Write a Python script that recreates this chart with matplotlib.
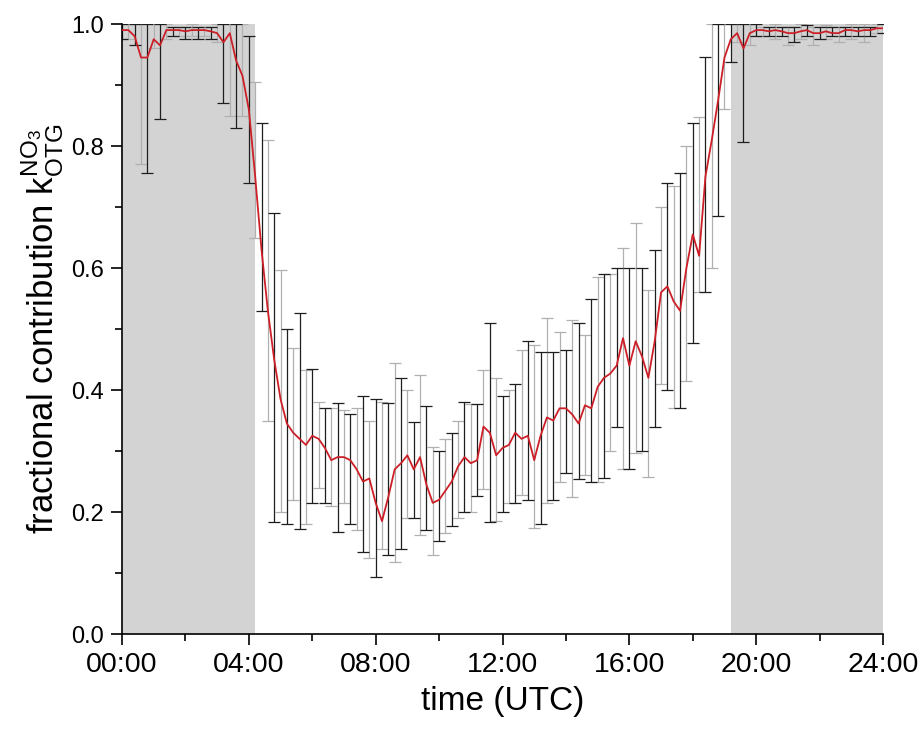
import matplotlib
matplotlib.use("Agg")
import matplotlib.pyplot as plt
import numpy as np

plt.rcParams.update({
    "font.family": ["Liberation Sans", "DejaVu Sans"],
    "mathtext.fontset": "custom",
    "mathtext.rm": "Liberation Sans",
    "mathtext.it": "Liberation Sans",
})

# time in hours (UTC), 12-minute steps
hours = np.round(np.arange(0, 24.01, 0.2), 1)

# fractional contribution (red line)
frac = np.array([
    0.99, 0.99, 0.98, 0.945, 0.945, 0.975, 0.965, 0.99, 0.99, 0.99,      # 0.0-1.8
    0.988, 0.99, 0.99, 0.99, 0.988, 0.985, 0.97, 0.985, 0.94, 0.915,     # 2.0-3.8
    0.86, 0.75, 0.63, 0.53, 0.45, 0.385, 0.345, 0.33, 0.32, 0.31,        # 4.0-5.8
    0.325, 0.32, 0.305, 0.285, 0.29, 0.29, 0.285, 0.27, 0.25, 0.255,     # 6.0-7.8
    0.215, 0.185, 0.225, 0.27, 0.28, 0.293, 0.27, 0.29, 0.245, 0.215,    # 8.0-9.8
    0.22, 0.235, 0.25, 0.275, 0.29, 0.28, 0.285, 0.34, 0.33, 0.293,      # 10.0-11.8
    0.305, 0.31, 0.33, 0.32, 0.325, 0.285, 0.325, 0.355, 0.35, 0.37,     # 12.0-13.8
    0.37, 0.36, 0.345, 0.375, 0.37, 0.405, 0.42, 0.427, 0.44, 0.485,     # 14.0-15.8
    0.44, 0.48, 0.455, 0.42, 0.48, 0.56, 0.57, 0.545, 0.53, 0.60,        # 16.0-17.8
    0.655, 0.62, 0.75, 0.81, 0.875, 0.945, 0.975, 0.985, 0.96, 0.985,    # 18.0-19.8
    0.99, 0.99, 0.988, 0.99, 0.988, 0.985, 0.985, 0.988, 0.99, 0.985,    # 20.0-21.8
    0.985, 0.988, 0.985, 0.985, 0.99, 0.99, 0.988, 0.99, 0.99, 0.993,    # 22.0-23.8
    0.993,                                                               # 24.0
])

# lower / upper ends of the error bars
err_lo = np.array([
    0.975, 0.975, 0.965, 0.77, 0.755, 0.96, 0.845, 0.975, 0.98, 0.98,
    0.975, 0.98, 0.975, 0.98, 0.975, 0.97, 0.87, 0.85, 0.83, 0.85,
    0.74, 0.65, 0.53, 0.35, 0.184, 0.20, 0.18, 0.22, 0.172, 0.18,
    0.215, 0.24, 0.215, 0.21, 0.167, 0.215, 0.18, 0.17, 0.135, 0.124,
    0.094, 0.14, 0.13, 0.118, 0.14, 0.19, 0.19, 0.162, 0.17, 0.13,
    0.153, 0.165, 0.177, 0.19, 0.20, 0.20, 0.226, 0.238, 0.184, 0.185,
    0.20, 0.215, 0.215, 0.228, 0.22, 0.174, 0.18, 0.214, 0.22, 0.25,
    0.264, 0.225, 0.254, 0.26, 0.25, 0.25, 0.255, 0.30, 0.34, 0.27,
    0.27, 0.297, 0.30, 0.257, 0.34, 0.41, 0.40, 0.37, 0.37, 0.415,
    0.477, 0.56, 0.56, 0.60, 0.685, 0.86, 0.937, 0.97, 0.807, 0.965,
    0.98, 0.98, 0.98, 0.975, 0.98, 0.965, 0.97, 0.975, 0.98, 0.965,
    0.975, 0.975, 0.98, 0.97, 0.98, 0.975, 0.98, 0.97, 0.98, 0.985,
    0.985,
])
err_hi = np.array([
    1.0, 1.0, 1.0, 1.0, 1.0, 1.0, 1.0, 1.0, 0.995, 0.995,
    0.995, 1.0, 0.995, 0.995, 0.995, 1.0, 1.0, 1.0, 1.0, 1.0,
    0.98, 0.905, 0.838, 0.81, 0.69, 0.597, 0.50, 0.469, 0.526, 0.433,
    0.435, 0.38, 0.37, 0.37, 0.378, 0.367, 0.36, 0.37, 0.39, 0.35,
    0.385, 0.38, 0.378, 0.444, 0.42, 0.40, 0.348, 0.425, 0.374, 0.307,
    0.30, 0.32, 0.33, 0.35, 0.38, 0.377, 0.377, 0.433, 0.51, 0.42,
    0.39, 0.40, 0.41, 0.466, 0.48, 0.474, 0.462, 0.518, 0.462, 0.495,
    0.466, 0.515, 0.51, 0.49, 0.55, 0.585, 0.59, 0.59, 0.60, 0.632,
    0.60, 0.673, 0.60, 0.564, 0.63, 0.70, 0.74, 0.735, 0.756, 0.80,
    0.838, 0.848, 0.946, 1.0, 1.0, 1.0, 1.0, 1.0, 1.0, 1.0,
    1.0, 0.995, 0.995, 1.0, 0.995, 0.995, 0.995, 1.0, 0.998, 0.995,
    0.995, 0.998, 0.995, 0.995, 0.995, 1.0, 0.995, 1.0, 0.995, 1.0,
    1.0,
])

# night-time periods (shaded)
night_spans = [(0.0, 4.2), (19.2, 24.0)]

fig = plt.figure(figsize=(9.2, 7.34), dpi=100)
ax = fig.add_axes([0.1326, 0.1362, 0.8272, 0.8311])

for a, b in night_spans:
    ax.axvspan(a, b, color="#d3d3d3", lw=0, zorder=0)

yerr = np.vstack([np.clip(frac - err_lo, 0, None), np.clip(err_hi - frac, 0, None)])
for k, col in [(1, "#b0b0b0"), (0, "#1e1e1e")]:
    idx = np.arange(len(hours)) % 2 == k
    ax.errorbar(hours[idx], frac[idx], yerr=yerr[:, idx], fmt="none",
                ecolor=col, elinewidth=0.9, capsize=4.5, capthick=0.9, zorder=2)

ax.plot(hours, frac, color="#cc1f27", lw=1.3, zorder=3)

ax.set_xlim(0, 24)
ax.set_ylim(0, 1.0)
ax.set_xticks(np.arange(0, 25, 4))
ax.set_xticks(np.arange(2, 24, 4), minor=True)
ax.set_xticklabels([f"{h:02d}:00" for h in range(0, 25, 4)], fontsize=20.5)
ax.set_yticks(np.arange(0, 1.01, 0.2))
ax.set_yticks(np.arange(0.1, 1.0, 0.2), minor=True)
ax.set_yticklabels([f"{v:.1f}" for v in np.arange(0, 1.01, 0.2)], fontsize=17)

ax.tick_params(axis="both", which="major", direction="out", length=8, width=1.2, pad=5)
ax.tick_params(axis="both", which="minor", direction="out", length=5, width=1.2)
ax.spines["top"].set_visible(False)
ax.spines["right"].set_visible(False)
for s in ["left", "bottom"]:
    ax.spines[s].set_linewidth(1.2)

ax.set_xlabel("time (UTC)", fontsize=24, labelpad=6)
ax.set_ylabel(r"fractional contribution k$_{\mathregular{OTG}}^{\mathregular{NO_3}}$",
              fontsize=25, labelpad=4)

fig.savefig("out.png", dpi=100, facecolor="white")
